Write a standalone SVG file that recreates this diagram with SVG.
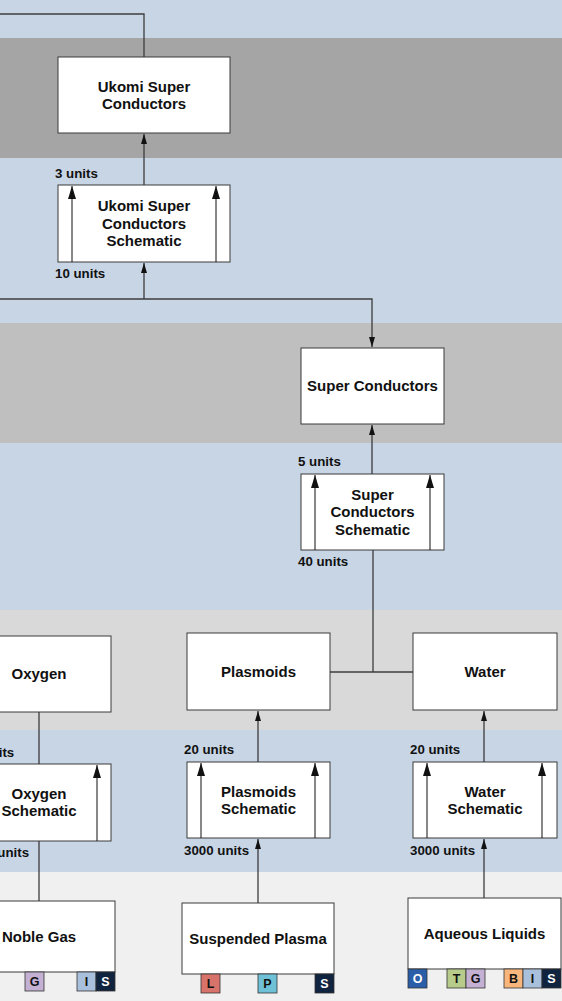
<svg xmlns="http://www.w3.org/2000/svg" width="562" height="1001" viewBox="0 0 562 1001">
<style>
.node{fill:#fff;stroke:#3a3a3a;stroke-width:1}
.t{font-family:"Liberation Sans",Arial,sans-serif;font-weight:bold;font-size:15px;fill:#111;text-anchor:middle}
.lbl{font-family:"Liberation Sans",Arial,sans-serif;font-weight:bold;font-size:13.3px;fill:#111}
.conn{fill:none;stroke:#3c3c3c;stroke-width:1.3}
.inner{stroke:#111;stroke-width:1}
.bd{stroke:#333;stroke-width:0.8}
.bt{font-family:"Liberation Sans",Arial,sans-serif;font-weight:bold;font-size:12.5px;text-anchor:middle}
</style>
<defs>
<marker id="ah" markerUnits="userSpaceOnUse" markerWidth="10" markerHeight="6" refX="10" refY="3" orient="auto" viewBox="0 0 10 6">
<path d="M0,0 L10,3 L0,6 Z" fill="#111"/>
</marker>
<marker id="ahi" markerUnits="userSpaceOnUse" markerWidth="13" markerHeight="8" refX="13" refY="4" orient="auto" viewBox="0 0 13 8">
<path d="M0,0 L13,4 L0,8 Z" fill="#111"/>
</marker>
</defs>
<g id="bands">
<rect x="0" y="0" width="562" height="38" fill="#c8d5e5"/>
<rect x="0" y="38" width="562" height="120" fill="#a5a5a5"/>
<rect x="0" y="158" width="562" height="165" fill="#c8d5e5"/>
<rect x="0" y="323" width="562" height="120" fill="#bfbfbf"/>
<rect x="0" y="443" width="562" height="167" fill="#c8d5e5"/>
<rect x="0" y="610" width="562" height="120" fill="#d9d9d9"/>
<rect x="0" y="730" width="562" height="142" fill="#c8d5e5"/>
<rect x="0" y="872" width="562" height="129" fill="#f0f0f0"/>
</g>
<g id="connectors">
<path class="conn" d="M0,14 H144 V57"/>
<path class="conn" d="M144,185 V134" marker-end="url(#ah)"/>
<path class="conn" d="M0,299 H372 V347" marker-end="url(#ah)"/>
<path class="conn" d="M144,299 V263" marker-end="url(#ah)"/>
<path class="conn" d="M372,474 V425" marker-end="url(#ah)"/>
<path class="conn" d="M330,672 H413"/>
<path class="conn" d="M373,672 V550"/>
<path class="conn" d="M258,762 V711" marker-end="url(#ah)"/>
<path class="conn" d="M484,762 V711" marker-end="url(#ah)"/>
<path class="conn" d="M39,712 V764"/>
<path class="conn" d="M39,841 V901"/>
<path class="conn" d="M258,903 V839" marker-end="url(#ah)"/>
<path class="conn" d="M484,898 V839" marker-end="url(#ah)"/>
</g>
<g id="ukomi-super-conductors">
<rect class="node" x="58" y="57" width="172" height="76"/>
<text class="t" x="144" y="91.5">Ukomi Super</text>
<text class="t" x="144" y="108.5">Conductors</text>
</g>
<g id="ukomi-super-conductors-schematic">
<rect class="node" x="58" y="185" width="172" height="77"/>
<line class="inner" x1="72" y1="262" x2="72" y2="186" marker-end="url(#ahi)"/>
<line class="inner" x1="216" y1="262" x2="216" y2="186" marker-end="url(#ahi)"/>
<text class="t" x="144" y="211">Ukomi Super</text>
<text class="t" x="144" y="228.5">Conductors</text>
<text class="t" x="144" y="246">Schematic</text>
<text class="lbl" x="55" y="178">3 units</text>
<text class="lbl" x="55" y="278">10 units</text>
</g>
<g id="super-conductors">
<rect class="node" x="301" y="348" width="143" height="76"/>
<text class="t" x="372.5" y="391">Super Conductors</text>
</g>
<g id="super-conductors-schematic">
<rect class="node" x="301" y="474" width="143" height="76"/>
<line class="inner" x1="315" y1="550" x2="315" y2="475" marker-end="url(#ahi)"/>
<line class="inner" x1="430" y1="550" x2="430" y2="475" marker-end="url(#ahi)"/>
<text class="t" x="372.5" y="499.5">Super</text>
<text class="t" x="372.5" y="517">Conductors</text>
<text class="t" x="372.5" y="534.5">Schematic</text>
<text class="lbl" x="298" y="466">5 units</text>
<text class="lbl" x="298" y="566">40 units</text>
</g>
<g id="oxygen">
<rect class="node" x="-33" y="636" width="144" height="76"/>
<text class="t" x="39" y="679">Oxygen</text>
</g>
<g id="oxygen-schematic">
<rect class="node" x="-33" y="764" width="144" height="77"/>
<line class="inner" x1="97" y1="841" x2="97" y2="765" marker-end="url(#ahi)"/>
<text class="t" x="39" y="799">Oxygen</text>
<text class="t" x="39" y="816">Schematic</text>
<text class="lbl" x="-36" y="757">20 units</text>
<text class="lbl" x="-36" y="857">3000 units</text>
</g>
<g id="plasmoids">
<rect class="node" x="187" y="633" width="143" height="77"/>
<text class="t" x="258.5" y="676.5">Plasmoids</text>
</g>
<g id="plasmoids-schematic">
<rect class="node" x="187" y="762" width="143" height="76"/>
<line class="inner" x1="201" y1="838" x2="201" y2="763" marker-end="url(#ahi)"/>
<line class="inner" x1="315" y1="838" x2="315" y2="763" marker-end="url(#ahi)"/>
<text class="t" x="258.5" y="797">Plasmoids</text>
<text class="t" x="258.5" y="814">Schematic</text>
<text class="lbl" x="184" y="754">20 units</text>
<text class="lbl" x="184" y="855">3000 units</text>
</g>
<g id="water">
<rect class="node" x="413" y="633" width="144" height="77"/>
<text class="t" x="485" y="676.5">Water</text>
</g>
<g id="water-schematic">
<rect class="node" x="413" y="762" width="144" height="76"/>
<line class="inner" x1="427" y1="838" x2="427" y2="763" marker-end="url(#ahi)"/>
<line class="inner" x1="542" y1="838" x2="542" y2="763" marker-end="url(#ahi)"/>
<text class="t" x="485" y="797">Water</text>
<text class="t" x="485" y="814">Schematic</text>
<text class="lbl" x="410" y="754">20 units</text>
<text class="lbl" x="410" y="855">3000 units</text>
</g>
<g id="noble-gas">
<rect class="node" x="-37" y="901" width="152" height="71"/>
<text class="t" x="39" y="941.5">Noble Gas</text>
<rect class="bd" x="25" y="972" width="19" height="19" fill="#c3b0d3"/>
<text class="bt" x="34.5" y="986" fill="#111">G</text>
<rect class="bd" x="77" y="972" width="19" height="19" fill="#a9c0dc"/>
<text class="bt" x="86.5" y="986" fill="#111">I</text>
<rect class="bd" x="96" y="972" width="19" height="19" fill="#10243f"/>
<text class="bt" x="105.5" y="986" fill="#fff">S</text>
</g>
<g id="suspended-plasma">
<rect class="node" x="182" y="903" width="152" height="71"/>
<text class="t" x="258" y="943.5">Suspended Plasma</text>
<rect class="bd" x="201" y="974" width="19" height="19" fill="#d7736a"/>
<text class="bt" x="210.5" y="988" fill="#111">L</text>
<rect class="bd" x="258" y="974" width="19" height="19" fill="#6fc1d8"/>
<text class="bt" x="267.5" y="988" fill="#111">P</text>
<rect class="bd" x="315" y="974" width="19" height="19" fill="#10243f"/>
<text class="bt" x="324.5" y="988" fill="#fff">S</text>
</g>
<g id="aqueous-liquids">
<rect class="node" x="408" y="898" width="153" height="71"/>
<text class="t" x="484.5" y="938.5">Aqueous Liquids</text>
<rect class="bd" x="408" y="969" width="19" height="19" fill="#2a5ea8"/>
<text class="bt" x="417.5" y="983" fill="#fff">O</text>
<rect class="bd" x="447" y="969" width="19" height="19" fill="#b7cc8b"/>
<text class="bt" x="456.5" y="983" fill="#111">T</text>
<rect class="bd" x="466" y="969" width="19" height="19" fill="#c3b0d3"/>
<text class="bt" x="475.5" y="983" fill="#111">G</text>
<rect class="bd" x="504" y="969" width="19" height="19" fill="#f8b67c"/>
<text class="bt" x="513.5" y="983" fill="#111">B</text>
<rect class="bd" x="523" y="969" width="19" height="19" fill="#a9c0dc"/>
<text class="bt" x="532.5" y="983" fill="#111">I</text>
<rect class="bd" x="542" y="969" width="19" height="19" fill="#10243f"/>
<text class="bt" x="551.5" y="983" fill="#fff">S</text>
</g>
</svg>
